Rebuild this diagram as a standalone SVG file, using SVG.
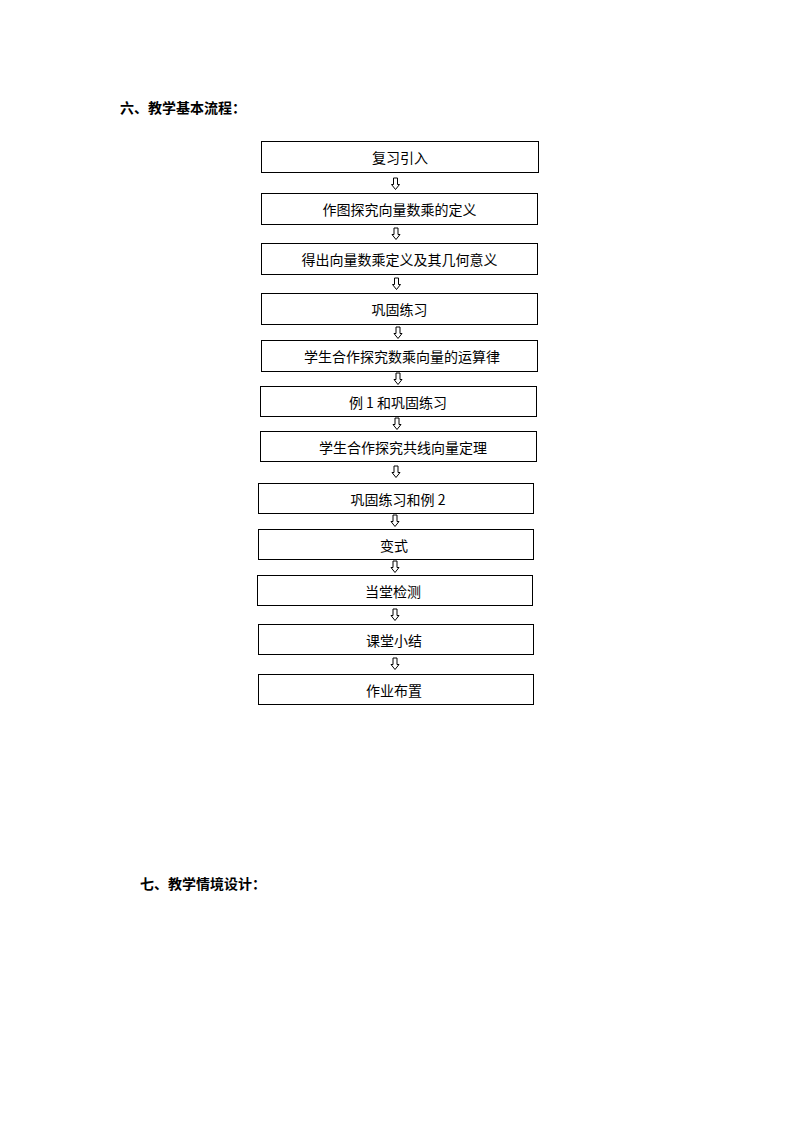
<svg xmlns="http://www.w3.org/2000/svg" width="794" height="1123" viewBox="0 0 794 1123">
<defs>
<style>
.box{fill:#fff;stroke:#000;stroke-width:1}
.t{font-family:"Noto Sans CJK SC","Liberation Sans",sans-serif;font-size:14px;fill:#000;text-anchor:middle;dominant-baseline:central}
.h{font-family:"Noto Sans CJK SC","Liberation Sans",sans-serif;font-size:14px;font-weight:bold;fill:#000}
.arr{fill:#fff;stroke:#000;stroke-width:1;stroke-linejoin:miter}
</style>
<path id="a" d="M-2,0 H2 V6.5 H4 L0,11.5 L-4,6.5 H-2 Z"/>
</defs>
<rect width="794" height="1123" fill="#fff"/>
<text class="h" x="120" y="113">六、教学基本流程：</text>
<text class="h" x="140" y="889">七、教学情境设计：</text>
<g id="connectors">
<use href="#a" class="arr" x="395.5" y="178"/>
<use href="#a" class="arr" x="396" y="228"/>
<use href="#a" class="arr" x="396.5" y="278"/>
<use href="#a" class="arr" x="398" y="327"/>
<use href="#a" class="arr" x="398" y="373"/>
<use href="#a" class="arr" x="397" y="418"/>
<use href="#a" class="arr" x="396" y="466"/>
<use href="#a" class="arr" x="395" y="515"/>
<use href="#a" class="arr" x="395" y="561"/>
<use href="#a" class="arr" x="395" y="609"/>
<use href="#a" class="arr" x="395" y="658"/>
</g>
<g id="n1"><rect class="box" x="261.5" y="141.5" width="277" height="31"/><text class="t" x="400" y="157">复习引入</text></g>
<g id="n2"><rect class="box" x="261.5" y="193.5" width="276" height="31"/><text class="t" x="399.5" y="209">作图探究向量数乘的定义</text></g>
<g id="n3"><rect class="box" x="261.5" y="243.5" width="276" height="31"/><text class="t" x="399.5" y="259">得出向量数乘定义及其几何意义</text></g>
<g id="n4"><rect class="box" x="261.5" y="293.5" width="276" height="31"/><text class="t" x="399.5" y="309">巩固练习</text></g>
<g id="n5"><rect class="box" x="261.5" y="340.5" width="276" height="31"/><text class="t" x="402" y="356">学生合作探究数乘向量的运算律</text></g>
<g id="n6"><rect class="box" x="260.5" y="386.5" width="276" height="30"/><text class="t" x="398" y="401.5">例 1 和巩固练习</text></g>
<g id="n7"><rect class="box" x="260.5" y="431.5" width="276" height="30"/><text class="t" x="403" y="446.5">学生合作探究共线向量定理</text></g>
<g id="n8"><rect class="box" x="258.5" y="483.5" width="275" height="30"/><text class="t" x="398" y="498.5">巩固练习和例 2</text></g>
<g id="n9"><rect class="box" x="258.5" y="529.5" width="275" height="30"/><text class="t" x="394" y="544.5">变式</text></g>
<g id="n10"><rect class="box" x="257.5" y="575.5" width="275" height="30"/><text class="t" x="393" y="590.5">当堂检测</text></g>
<g id="n11"><rect class="box" x="258.5" y="624.5" width="275" height="30"/><text class="t" x="394" y="639.5">课堂小结</text></g>
<g id="n12"><rect class="box" x="258.5" y="674.5" width="275" height="30"/><text class="t" x="394" y="689.5">作业布置</text></g>
</svg>
